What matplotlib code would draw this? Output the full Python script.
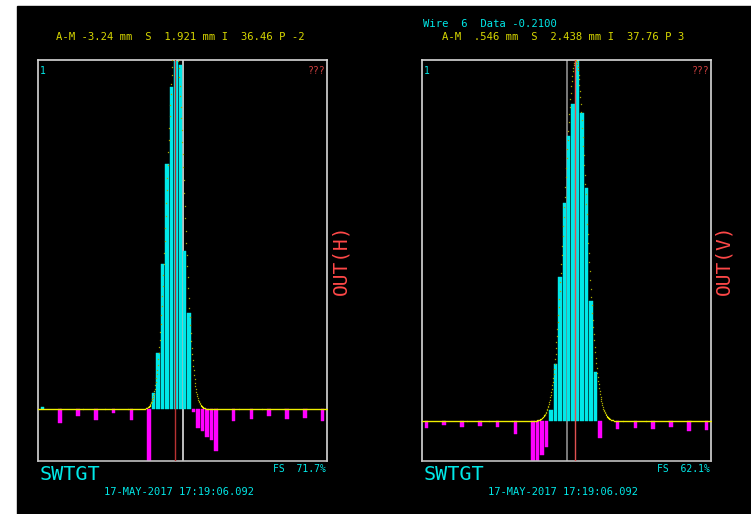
import matplotlib
matplotlib.use('Agg')
import matplotlib.pyplot as plt
import numpy as np
from matplotlib.patches import Rectangle

W, H = 751, 514

# wire positions (mm)
wire_pos = [-31.5, -27.5, -23.5, -19.5, -15.5, -11.5,
            -7.5, -6.5, -5.5, -4.5, -3.5, -2.5, -1.5, -0.5,
            0.5, 1.5, 2.5, 3.5, 4.5, 5.5, 6.5, 7.5,
            11.5, 15.5, 19.5, 23.5, 27.5, 31.5]

# horizontal profile (% of full scale)
h_values = [0.6, -3.9, -2.0, -3.1, -1.1, -3.1,
            -16.0, 4.6, 16.0, 41.5, 70.1, 92.2, 104.0, 98.5,
            45.2, 27.5, -0.7, -5.4, -6.3, -7.8, -8.9, -11.8,
            -3.3, -2.7, -2.0, -2.7, -2.5, -3.3]

# vertical profile (% of full scale)
v_values = [-1.9, -1.0, -1.7, -1.2, -1.5, -3.4,
            -12.0, -12.0, -9.4, -7.0, 3.1, 15.9, 39.9, 60.3,
            79.0, 87.8, 104.0, 85.3, 64.7, 33.4, 13.7, -4.5,
            -2.2, -1.9, -2.2, -1.7, -2.7, -2.4]

h_fit = (106.0, -1.6, 1.921)   # amplitude, mean, sigma
v_fit = (100.0, 2.0, 2.438)

h_header = "A-M -3.24 mm  S  1.921 mm I  36.46 P -2"
v_wire_line = "Wire  6  Data -0.2100"
v_header = "A-M  .546 mm  S  2.438 mm I  37.76 P 3"
h_fs = "FS  71.7%"
v_fs = "FS  62.1%"
stamp = "17-MAY-2017 17:19:06.092"

MONO = 'DejaVu Sans Mono'
CYAN = '#00e8e8'
YEL = '#d8d800'
RED = '#ff4848'

fig = plt.figure(figsize=(W / 100, H / 100), dpi=100)
fig.patch.set_facecolor('white')
fig.add_artist(Rectangle((17 / W, 0), (W - 17) / W, (H - 6) / H,
                         transform=fig.transFigure, color='black', zorder=0))


def ftext(px, py, s, **kw):
    fig.text(px / W, 1 - py / H, s, family=MONO, **kw)


def panel(x0px, values, fit, ylo, red_x, red_col, grey_col):
    ax = fig.add_axes([x0px / W, (H - 461) / H, 289 / W, 401 / H])
    ax.set_facecolor('black')
    ax.set_xlim(-32.5, 32.5)
    ax.set_ylim(ylo, 100)
    vals = np.array(values)
    pos = np.array(wire_pos)
    cols = [CYAN if v >= 0 else '#ff00ff' for v in vals]
    ax.axvline(0.1, color=grey_col, lw=1.2, zorder=1)
    ax.bar(pos, vals, width=0.78, color=cols, edgecolor=cols, lw=0.3, zorder=2)
    a, m, s = fit
    xs = np.arange(-32.5, 32.5, 0.11)
    ys = a * np.exp(-0.5 * ((xs - m) / s) ** 2)
    flat = np.abs(np.gradient(ys, xs)) < 2.0
    ax.plot(xs[flat], ys[flat], ls='none', marker='s', ms=0.85, mew=0,
            color='#f0f000', zorder=3)
    ax.plot(xs[~flat], ys[~flat], ls='none', marker='s', ms=0.9, mew=0,
            color='#a8a800', zorder=3)
    ax.axvline(red_x, color=red_col, lw=1.0, zorder=4)
    for sp in ax.spines.values():
        sp.set_color('#d8d8d8')
        sp.set_linewidth(1.2)
    ax.spines['bottom'].set_color('#c0c0c0')
    ax.set_xticks([])
    ax.set_yticks([])
    ax.text(0.006, 0.985, '1', transform=ax.transAxes, family=MONO, color=CYAN,
            fontsize=7, ha='left', va='top')
    ax.text(0.995, 0.985, '???', transform=ax.transAxes, family=MONO, color='#d04040',
            fontsize=7, ha='right', va='top')
    return ax


panel(38, h_values, h_fit, -14.8, -1.6, '#b83232', '#e0e0e0')
panel(422, v_values, v_fit, -11.0, 2.0, '#e05050', '#909090')

# header texts
ftext(55.7, 37.3, h_header, color=YEL, fontsize=7.6, ha='left', va='center')
ftext(422.7, 24.3, v_wire_line, color=CYAN, fontsize=7.6, ha='left', va='center')
ftext(441.7, 37.0, v_header, color=YEL, fontsize=7.6, ha='left', va='center')

# side labels
ftext(341, 260, 'OUT(H)', color=RED, fontsize=14, rotation=90, ha='center', va='center')
ftext(724, 260, 'OUT(V)', color=RED, fontsize=14, rotation=90, ha='center', va='center')

# bottom texts
for xl, xr, fs in [(38, 327, h_fs), (422, 711, v_fs)]:
    ftext(xl + 1.5, 475, 'SWTGT', color=CYAN, fontsize=14.5, ha='left', va='center')
    ftext(xr - 1, 469, fs, color=CYAN, fontsize=7, ha='right', va='center')
    ftext(xl + 66, 492, stamp, color=CYAN, fontsize=7.5, ha='left', va='center')

fig.savefig('out.png', dpi=100, facecolor=fig.get_facecolor())
